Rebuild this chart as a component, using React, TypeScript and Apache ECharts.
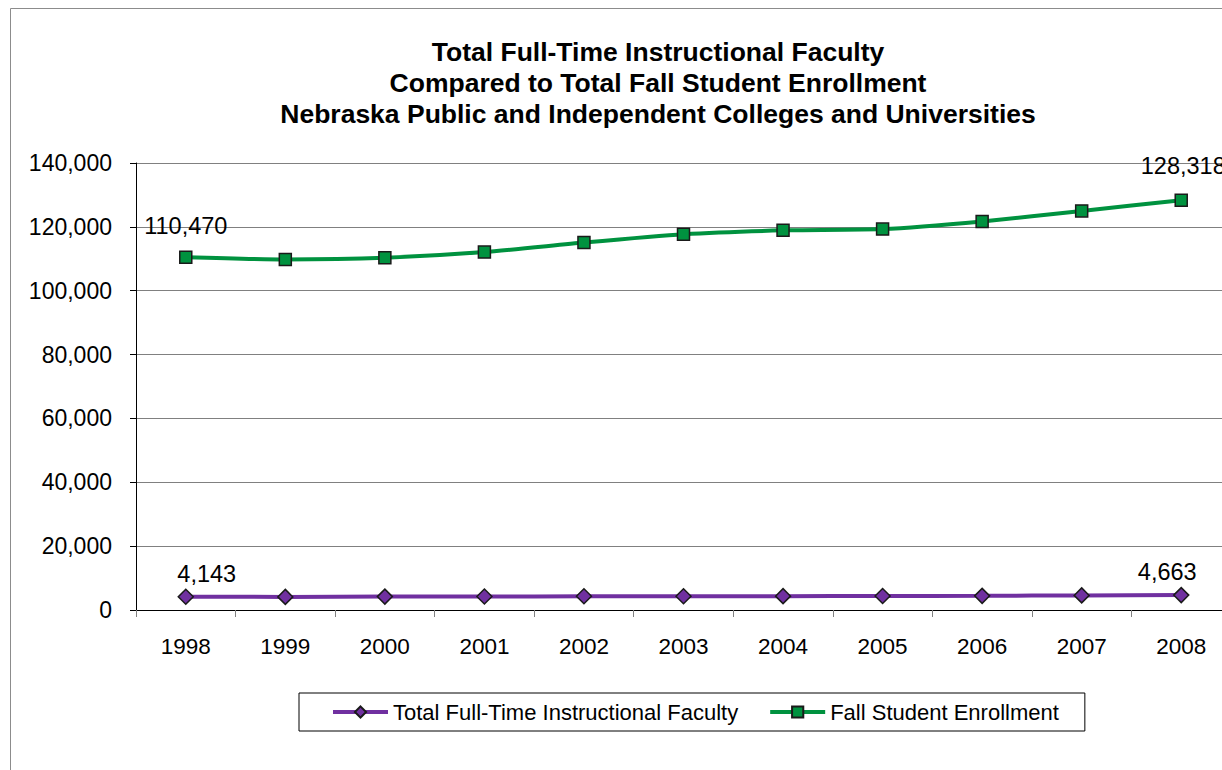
import React, { useEffect, useRef } from "react";
import * as echarts from "echarts";

const years = ["1998", "1999", "2000", "2001", "2002", "2003", "2004", "2005", "2006", "2007", "2008"];
const faculty = [4143, 4110, 4190, 4240, 4290, 4320, 4340, 4380, 4430, 4580, 4663];
const enrollment = [110470, 109760, 110300, 112100, 115100, 117700, 118900, 119300, 121700, 125000, 128318];
const titleLines = [
  "Total Full-Time Instructional Faculty",
  "Compared to Total Fall Student Enrollment",
  "Nebraska Public and Independent Colleges and Universities",
];
const seriesNames = ["Total Full-Time Instructional Faculty", "Fall Student Enrollment"];

const FONT = "Liberation Sans, Arial, sans-serif";
const fmt = (v: number) => v.toLocaleString("en-US");

function withEndLabels(values: number[], first: any, last: any) {
  return values.map((v, i) => {
    if (i === 0) return { value: v, label: { show: true, ...first } };
    if (i === values.length - 1) return { value: v, label: { show: true, ...last } };
    return { value: v };
  });
}

export default function App() {
  const ref = useRef<HTMLDivElement>(null);
  useEffect(() => {
    if (!ref.current) return;
    const chart = echarts.init(ref.current, undefined, { renderer: "svg" });
    const labelBase = {
      position: "top",
      distance: 5,
      color: "#000",
      fontSize: 23.5,
      fontFamily: FONT,
      formatter: (p: any) => fmt(p.value),
    };
    chart.setOption({
      animation: false,
      backgroundColor: "#fff",
      textStyle: { fontFamily: FONT },
      graphic: [
        {
          type: "rect",
          silent: true,
          shape: { x: 10.5, y: 8.5, width: 1400, height: 1000 },
          style: { fill: "none", stroke: "#8c8c8c", lineWidth: 1 },
        },
        {
          type: "text",
          x: 658,
          y: 36.5,
          style: {
            text: titleLines.join("\n"),
            font: `bold 26.5px ${FONT}`,
            fill: "#000",
            textAlign: "center",
            lineHeight: 31,
          },
        },
      ],
      legend: {
        left: 299,
        top: 693,
        padding: [8, 26, 8, 32],
        itemGap: 30,
        itemWidth: 55,
        itemHeight: 14,
        borderColor: "#000",
        borderWidth: 1,
        lineStyle: { width: 4 },
        textStyle: { fontSize: 22, color: "#000", fontFamily: FONT },
        data: seriesNames,
      },
      grid: {
        left: 136,
        top: 163,
        width: 1095,
        height: 447,
        containLabel: false,
        outerBoundsMode: "none",
      },
      xAxis: {
        type: "category",
        data: years,
        boundaryGap: true,
        axisLine: { show: true, lineStyle: { color: "#000", width: 1 } },
        axisTick: { show: true, length: 7, lineStyle: { color: "#808080" } },
        axisLabel: { fontSize: 22.5, color: "#000", margin: 25, fontFamily: FONT },
        splitLine: { show: false },
      },
      yAxis: {
        type: "value",
        min: 0,
        max: 140000,
        interval: 20000,
        axisLine: { show: true, lineStyle: { color: "#000", width: 1 } },
        axisTick: { show: true, length: 6, lineStyle: { color: "#000" } },
        axisLabel: {
          fontSize: 23,
          color: "#000",
          margin: 24,
          fontFamily: FONT,
          formatter: (v: number) => fmt(v),
        },
        splitLine: { show: true, lineStyle: { color: "#808080", width: 1 } },
      },
      series: [
        {
          name: seriesNames[0],
          type: "line",
          smooth: 0.2,
          color: "#7030A0",
          lineStyle: { color: "#7030A0", width: 4 },
          symbol: "diamond",
          symbolSize: 15,
          itemStyle: { color: "#7030A0", borderColor: "#1a1a1a", borderWidth: 1.5 },
          data: withEndLabels(
            faculty,
            { ...labelBase, offset: [21, 2] },
            { ...labelBase, offset: [-14, 2] }
          ),
        },
        {
          name: seriesNames[1],
          type: "line",
          smooth: 0.2,
          color: "#00923F",
          lineStyle: { color: "#00923F", width: 4 },
          symbol: "rect",
          symbolSize: 12,
          itemStyle: { color: "#00923F", borderColor: "#1a1a1a", borderWidth: 1.5 },
          data: withEndLabels(
            enrollment,
            { ...labelBase, offset: [0, -8] },
            { ...labelBase, offset: [2, -11] }
          ),
        },
      ],
    });
    return () => chart.dispose();
  }, []);
  return (
    <div
      ref={ref}
      style={{ position: "absolute", left: 0, top: 0, width: 1222, height: 770, background: "#fff" }}
    />
  );
}
